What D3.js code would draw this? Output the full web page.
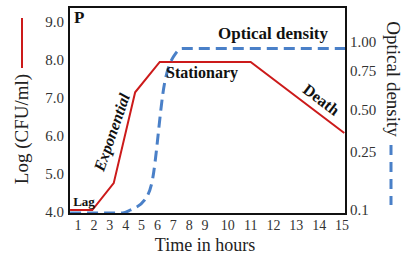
<!DOCTYPE html>
<html>
<head>
<meta charset="utf-8">
<script src="https://cdn.jsdelivr.net/npm/d3@7"></script>
<style>
  body { margin: 0; background: #fff; }
  svg { display: block; font-family: "Liberation Serif", "Times New Roman", serif; }
</style>
</head>
<body>
<svg width="404" height="256"></svg>
<script>
// hours on the x axis
const hourTicks = [1, 2, 3, 4, 5, 6, 7, 8, 9, 10, 11, 12, 13, 14, 15];
const logTicks = [4, 5, 6, 7, 8, 9];
const odTicks = [0.1, 0.25, 0.5, 0.75, 1.0];
const odTickLabels = ["0.1", "0.25", "0.50", "0.75", "1.00"];

// growth curve, log CFU/ml
const cfuHours = [0.5, 1.9, 3.25, 4.6, 6.15, 11, 15.1];
const cfuValues = [4.05, 4.05, 4.76, 7.15, 7.95, 7.95, 6.08];

// optical density curve
const odHours = [0.5, 3.8, 4.3, 5.2, 5.65, 6.45, 7.2, 7.55, 15.15];
const odValues = [0.092, 0.092, 0.1, 0.126, 0.17, 0.67, 0.91, 0.945, 0.945];

const svg = d3.select("svg");
const box = { left: 69, right: 346, top: 7, bottom: 214 };

// label spacing on the x axis widens after hour 9
const x = d3.scaleLinear().domain([1, 9, 15]).range([78, 205, 342]);
const yLog = d3.scaleLinear().domain([4, 9]).range([212, 22]);
const yOd = d3.scaleLinear().domain(odTicks).range([210, 152, 110, 71, 42]);

const red = "#cc1a1a";
const blue = "#4a80c8";

// lines
const cfu = cfuHours.map((h, i) => [h, cfuValues[i]]);
svg.append("path")
  .attr("d", d3.line().x(d => x(d[0])).y(d => yLog(d[1]))(cfu))
  .attr("fill", "none")
  .attr("stroke", red)
  .attr("stroke-width", 2);

const od = odHours.map((h, i) => [h, odValues[i]]);
svg.append("path")
  .attr("d", d3.line().curve(d3.curveMonotoneX).x(d => x(d[0])).y(d => yOd(d[1]))(od))
  .attr("fill", "none")
  .attr("stroke", blue)
  .attr("stroke-width", 3)
  .attr("stroke-dasharray", "11,6");

// frame
svg.append("rect")
  .attr("x", box.left).attr("y", box.top)
  .attr("width", box.right - box.left).attr("height", box.bottom - box.top)
  .attr("fill", "none").attr("stroke", "#111").attr("stroke-width", 2);

// tick labels
svg.append("g").selectAll("text").data(hourTicks).join("text")
  .attr("x", d => x(d)).attr("y", 230)
  .attr("text-anchor", "middle").attr("font-size", 14).attr("fill", "#333")
  .text(d => d);

svg.append("g").selectAll("text").data(logTicks).join("text")
  .attr("x", 64).attr("y", d => yLog(d) + 5)
  .attr("text-anchor", "end").attr("font-size", 15).attr("fill", "#333")
  .text(d => d.toFixed(1));

svg.append("g").selectAll("text").data(odTicks).join("text")
  .attr("x", 350).attr("y", d => yOd(d) + 5)
  .attr("font-size", 15).attr("fill", "#333")
  .text((d, i) => odTickLabels[i]);

// axis titles
svg.append("text")
  .attr("x", 205).attr("y", 251)
  .attr("text-anchor", "middle").attr("font-size", 18).attr("fill", "#222")
  .text("Time in hours");

svg.append("line")
  .attr("x1", 22).attr("x2", 22).attr("y1", 18).attr("y2", 68)
  .attr("stroke", red).attr("stroke-width", 2);
svg.append("text")
  .attr("transform", "translate(28,129) rotate(-90)")
  .attr("text-anchor", "middle").attr("font-size", 19).attr("fill", "#222")
  .text("Log (CFU/ml)");

svg.append("text")
  .attr("transform", "translate(387,79) rotate(90)")
  .attr("text-anchor", "middle").attr("font-size", 19).attr("fill", "#222")
  .text("Optical density");
svg.append("line")
  .attr("x1", 391).attr("x2", 391).attr("y1", 145).attr("y2", 205)
  .attr("stroke", blue).attr("stroke-width", 3)
  .attr("stroke-dasharray", "10,7");

// phase annotations
const note = (txt, tx, ty, rot, size, italic) => svg.append("text")
  .attr("transform", `translate(${tx},${ty}) rotate(${rot})`)
  .attr("text-anchor", "middle")
  .attr("font-size", size).attr("font-weight", "bold")
  .attr("font-style", italic ? "italic" : "normal")
  .attr("fill", "#111")
  .text(txt);

svg.append("text").attr("x", 74).attr("y", 23)
  .attr("font-size", 17).attr("font-weight", "bold").attr("fill", "#111").text("P");
note("Optical density", 273, 39, 0, 17, false);
note("Stationary", 202, 78, 0, 16, false);
note("Lag", 84, 206, 0, 13, false);
note("Exponential", 117, 134, -71, 16, true);
note("Death", 318, 104, 37, 16, false);
</script>
</body>
</html>
